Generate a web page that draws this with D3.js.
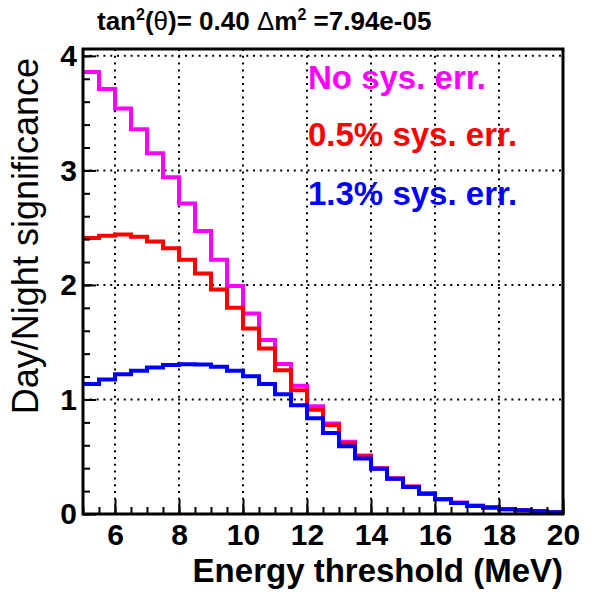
<!DOCTYPE html>
<html>
<head>
<meta charset="utf-8">
<script src="https://cdn.jsdelivr.net/npm/d3@7"></script>
<style>
  body { margin: 0; background: #fff; }
  svg { display: block; font-family: "Liberation Sans", Arial, Helvetica, sans-serif; }
</style>
</head>
<body>
<svg width="602" height="595"></svg>
<script>
// bin lower edges (MeV), bin width 0.5
var binEdges = [5, 5.5, 6, 6.5, 7, 7.5, 8, 8.5, 9, 9.5, 10, 10.5, 11, 11.5, 12,
  12.5, 13, 13.5, 14, 14.5, 15, 15.5, 16, 16.5, 17, 17.5, 18, 18.5, 19, 19.5, 20];

// significance, no systematic error
var noSys = [3.86, 3.71, 3.54, 3.36, 3.15, 2.94, 2.71, 2.47, 2.22, 1.99,
  1.75, 1.52, 1.31, 1.12, 0.94, 0.79, 0.63, 0.51, 0.40, 0.31,
  0.24, 0.18, 0.13, 0.10, 0.072, 0.058, 0.043, 0.033, 0.024, 0.016];
// 0.5% systematic error
var sys05 = [2.41, 2.43, 2.44, 2.42, 2.38, 2.32, 2.22, 2.10, 1.96, 1.80,
  1.62, 1.445, 1.256, 1.081, 0.91, 0.776, 0.621, 0.505, 0.398, 0.31,
  0.237, 0.179, 0.129, 0.097, 0.071, 0.057, 0.042, 0.033, 0.024, 0.016];
// 1.3% systematic error
var sys13 = [1.134, 1.175, 1.221, 1.25, 1.279, 1.30, 1.308, 1.306, 1.285, 1.25,
  1.203, 1.134, 1.046, 0.95, 0.835, 0.708, 0.592, 0.485, 0.395, 0.308,
  0.235, 0.177, 0.128, 0.096, 0.07, 0.056, 0.041, 0.032, 0.023, 0.015];

var xMajor = [6, 8, 10, 12, 14, 16, 18, 20];
var yMajor = [0, 1, 2, 3, 4];

var series = [
  { name: "No sys. err.", values: noSys, color: "#ff00ff" },
  { name: "0.5% sys. err.", values: sys05, color: "#ff0000" },
  { name: "1.3% sys. err.", values: sys13, color: "#0000ff" }
];

var svg = d3.select("svg");
var padL = 83, padR = 563, padT = 49, padB = 514;

var x = d3.scaleLinear().domain([5, 20]).range([padL, padR]);
var y = d3.scaleLinear().domain([0, 4.06]).range([padB, padT]);

// grid
var grid = svg.append("g")
  .attr("stroke", "#000")
  .attr("stroke-width", 2)
  .attr("stroke-dasharray", "2,4.8");
grid.selectAll("line.gx")
  .data(xMajor.filter(function (d) { return d < 20; }))
  .enter().append("line")
  .attr("x1", function (d) { return x(d); })
  .attr("x2", function (d) { return x(d); })
  .attr("y1", padT).attr("y2", padB);
grid.selectAll("line.gy")
  .data(yMajor.filter(function (d) { return d > 0; }))
  .enter().append("line")
  .attr("x1", padL).attr("x2", padR)
  .attr("y1", function (d) { return y(d); })
  .attr("y2", function (d) { return y(d); });

// histograms
var line = d3.line()
  .x(function (d) { return x(d[0]); })
  .y(function (d) { return y(d[1]); })
  .curve(d3.curveStepAfter);

series.forEach(function (s) {
  var pts = binEdges.map(function (e, i) {
    return [e, s.values[Math.min(i, s.values.length - 1)]];
  });
  svg.append("path")
    .attr("d", line(pts))
    .attr("fill", "none")
    .attr("stroke", s.color)
    .attr("stroke-width", 4);
});

// minor ticks
var minorY = svg.append("g").attr("transform", "translate(" + padL + ",0)")
  .call(d3.axisLeft(y).tickValues(y.ticks(20)).tickSize(-7).tickFormat(""));
var minorX = svg.append("g").attr("transform", "translate(0," + padB + ")")
  .call(d3.axisBottom(x).tickValues(x.ticks(30)).tickSize(-7).tickFormat(""));

// major ticks + labels
var yAxis = svg.append("g").attr("transform", "translate(" + padL + ",0)")
  .call(d3.axisLeft(y).tickValues(yMajor).tickSize(-13).tickPadding(6).tickFormat(d3.format("d")));
var xAxis = svg.append("g").attr("transform", "translate(0," + padB + ")")
  .call(d3.axisBottom(x).tickValues(xMajor).tickSize(-15).tickPadding(10).tickFormat(d3.format("d")));

[minorY, minorX, yAxis, xAxis].forEach(function (g) {
  g.select(".domain").remove();
  g.selectAll(".tick line").attr("stroke", "#000").attr("stroke-width", 2);
  g.selectAll(".tick text")
    .attr("fill", "#000")
    .style("font-size", "30px")
    .style("font-weight", "bold")
    .style("font-family", "'Liberation Sans', Arial, sans-serif");
});

// frame
svg.append("rect")
  .attr("x", padL).attr("y", padT)
  .attr("width", padR - padL).attr("height", padB - padT)
  .attr("fill", "none").attr("stroke", "#000").attr("stroke-width", 3);

// legend texts
svg.selectAll("text.leg")
  .data(series)
  .enter().append("text")
  .attr("class", "leg")
  .attr("x", 308)
  .attr("y", function (d, i) { return [89, 146, 205][i]; })
  .attr("fill", function (d) { return d.color; })
  .style("font-size", "33px")
  .style("font-weight", "bold")
  .text(function (d) { return d.name; });

// axis titles
svg.append("text")
  .attr("x", padR).attr("y", 582)
  .attr("text-anchor", "end")
  .style("font-size", "33px")
  .style("font-weight", "bold")
  .text("Energy threshold (MeV)");

svg.append("text")
  .attr("transform", "translate(38,58) rotate(-90)")
  .attr("text-anchor", "end")
  .style("font-size", "36px")
  .text("Day/Night significance");

// title
var title = svg.append("text")
  .attr("x", 97).attr("y", 30)
  .style("font-size", "26px")
  .style("font-weight", "bold");
title.append("tspan").text("tan");
title.append("tspan").attr("dy", -10).style("font-size", "16px").text("2");
title.append("tspan").attr("dy", 10).text("(");
title.append("tspan").style("font-weight", "normal").text("θ");
title.append("tspan").text(")= 0.40 ");
title.append("tspan").style("font-weight", "normal").text("Δ");
title.append("tspan").text("m");
title.append("tspan").attr("dy", -10).style("font-size", "16px").text("2");
title.append("tspan").attr("dy", 10).text(" =7.94e-05");
</script>
</body>
</html>
